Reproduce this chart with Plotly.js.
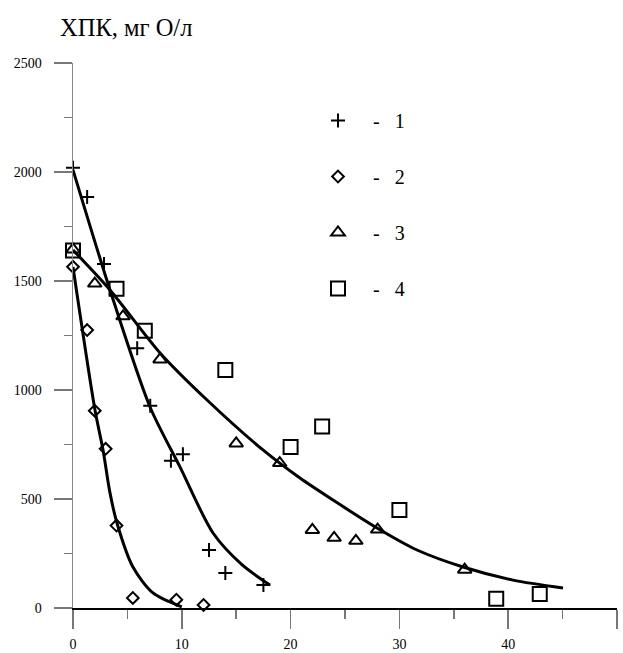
<!DOCTYPE html>
<html>
<head>
<meta charset="utf-8">
<script src="https://cdn.plot.ly/plotly-3.0.1.min.js"></script>
<style>html,body{margin:0;padding:0;background:#fff;}#chart{width:623px;height:653px;}</style>
</head>
<body>
<div id="chart"></div>
<script>
// Series 1 (+)
var s1x = [0, 1.3, 2.85, 5.9, 7.1, 9.0, 10.1, 12.5, 14.0, 17.5];
var s1y = [2020, 1885, 1578, 1192, 928, 675, 705, 266, 160, 105];
// Series 2 (diamond)
var s2x = [0, 1.3, 2.0, 3.0, 4.0, 5.5, 9.5, 12.0];
var s2y = [1565, 1275, 905, 730, 378, 46, 38, 14];
// Series 3 (triangle)
var s3x = [0, 2.0, 4.6, 8.0, 15.0, 19.0, 22.0, 24.0, 26.0, 28.0, 36.0];
var s3y = [1645, 1488, 1338, 1140, 755, 665, 358, 322, 308, 360, 176];
// Series 4 (square)
var s4x = [0, 4.0, 6.6, 14.0, 20.0, 22.9, 30.0, 38.9, 42.9];
var s4y = [1640, 1465, 1272, 1092, 738, 832, 450, 42, 64];
// Fitted curves
var c1x = [0, 3.4, 7.08, 9.83, 12.87, 15.5, 18.1];
var c1y = [2010, 1459, 922, 647, 344, 200, 105];
var c2x = [0, 2.02, 2.76, 3.4, 4.04, 5.51, 7.35, 10.0];
var c2y = [1564, 908, 725, 528, 390, 188, 69, 5];
var c3x = [0, 3.4, 8.0, 12.32, 17.46, 20.86, 23.9, 27.94, 31.62, 35.85, 40.44, 45.04];
var c3y = [1642, 1459, 1170, 954, 725, 596, 495, 367, 266, 188, 128, 92];

var labels = ['\u00A0\u00A0\u00A0-\u00A0\u00A0\u00A01', '\u00A0\u00A0\u00A0-\u00A0\u00A0\u00A02', '\u00A0\u00A0\u00A0-\u00A0\u00A0\u00A03', '\u00A0\u00A0\u00A0-\u00A0\u00A0\u00A04'];
var yTicks = [0, 500, 1000, 1500, 2000, 2500];
var xTicks = [0, 10, 20, 30, 40, 50];

var FONT = 'Liberation Serif';
function curve(x, y) {
  return {x: x, y: y, mode: 'lines', type: 'scatter', showlegend: false, hoverinfo: 'skip',
          line: {color: '#000', width: 3, shape: 'spline', smoothing: 0.8}, cliponaxis: false};
}
function pts(x, y, sym, size, name, grp) {
  return {x: x, y: y, mode: 'markers', type: 'scatter', name: name, legendgroup: grp, cliponaxis: false,
          marker: {symbol: sym, size: size, color: '#000', line: {color: '#000', width: 2}}};
}
var data = [
  curve(c1x, c1y), curve(c2x, c2y), curve(c3x, c3y),
  pts(s1x, s1y, 'cross-thin-open', 10, labels[0], 'g1'),
  pts(s2x, s2y, 'diamond-open', 9, labels[1], 'g2'),
  pts(s3x, s3y, 'triangle-up-open', 12, labels[2], 'g3'),
  pts(s4x, s4y, 'square-open', 14, labels[3], 'g4')
];
var layout = {
  width: 623, height: 653,
  margin: {l: 73, r: 6, t: 63, b: 45},
  paper_bgcolor: '#fff', plot_bgcolor: '#fff',
  font: {family: FONT, color: '#000'},
  title: {text: 'ХПК, мг О/л', font: {family: FONT, size: 24.5, color: '#000'},
          xref: 'container', yref: 'container', x: 60/623, xanchor: 'left', y: 1 - 27/653, yanchor: 'middle'},
  xaxis: {range: [0, 50], tickvals: xTicks, ticktext: xTicks.map(String), showgrid: false, zeroline: false,
          showline: true, linecolor: '#000', linewidth: 1.5, ticks: 'outside', ticklen: 19, tickwidth: 1.5, tickcolor: '#777',
          minor: {dtick: 5, tick0: 0, ticks: 'outside', ticklen: 9, tickwidth: 1.5, tickcolor: '#777'},
          tickfont: {family: FONT, size: 14, color: '#000'}, ticklabelstandoff: 4, automargin: false, fixedrange: true},
  yaxis: {range: [0, 2500], tickvals: yTicks, ticktext: yTicks.map(String), showgrid: false, zeroline: false,
          showline: true, linecolor: '#888', linewidth: 1.5, ticks: 'outside', ticklen: 18, tickwidth: 1.5, tickcolor: '#777',
          minor: {dtick: 250, tick0: 0, ticks: 'outside', ticklen: 8, tickwidth: 1.5, tickcolor: '#777'},
          tickfont: {family: FONT, size: 14, color: '#000'}, ticklabelstandoff: 9, automargin: false, fixedrange: true},
  showlegend: true,
  legend: {x: (318 - 73) / 544, xanchor: 'left', y: 1 - (101 - 63) / 545, yanchor: 'top',
           font: {family: FONT, size: 20, color: '#000'}, tracegroupgap: 27, bgcolor: 'rgba(0,0,0,0)', itemclick: false, itemdoubleclick: false}
};
Plotly.newPlot('chart', data, layout, {displayModeBar: false, staticPlot: true});
</script>
</body>
</html>
